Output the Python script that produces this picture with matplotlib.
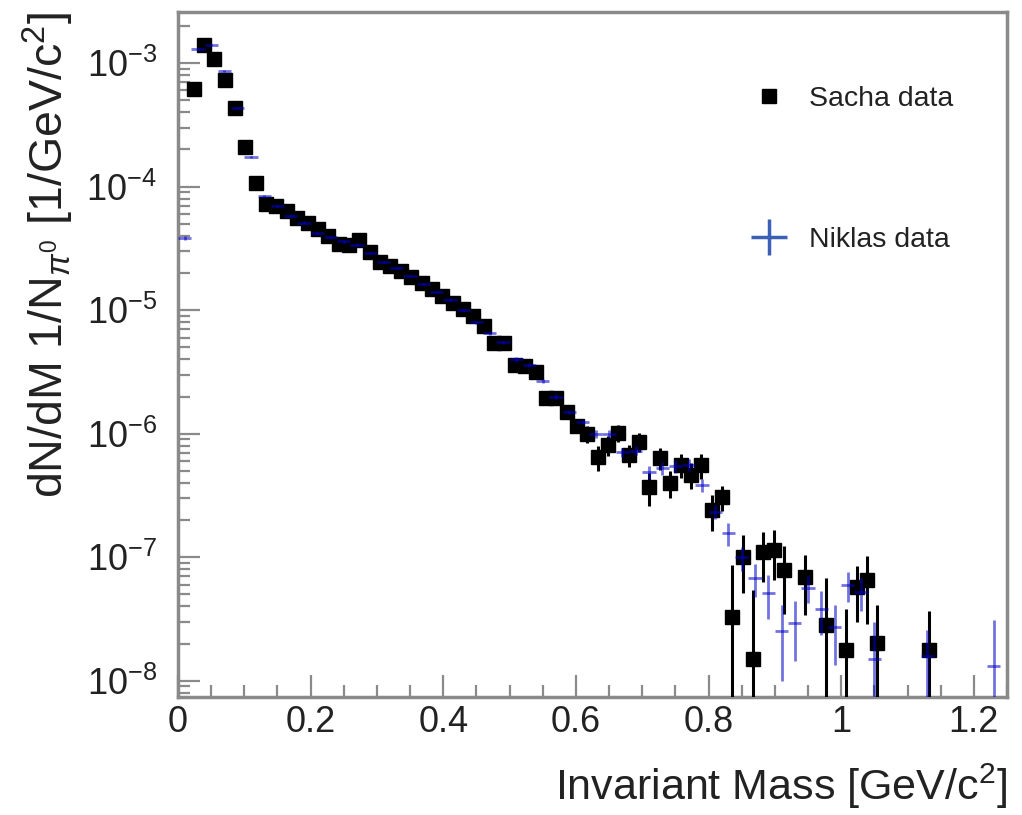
import numpy as np
import matplotlib
matplotlib.use("Agg")
import matplotlib.pyplot as plt
from matplotlib.lines import Line2D
from matplotlib.ticker import LogLocator, FixedLocator, MultipleLocator, FuncFormatter, NullFormatter

plt.rcParams['font.family'] = ['Liberation Sans', 'DejaVu Sans']
plt.rcParams['mathtext.fontset'] = 'custom'
plt.rcParams['mathtext.rm'] = 'Liberation Sans'
plt.rcParams['mathtext.it'] = 'Liberation Sans:italic'
plt.rcParams['mathtext.bf'] = 'Liberation Sans:bold'

# ---------------- data ----------------
sacha_mass = [0.0234, 0.0391, 0.0547, 0.0703, 0.0859, 0.1016, 0.1172, 0.1328, 0.1484, 0.1641,
              0.1797, 0.1953, 0.2109, 0.2266, 0.2422, 0.2578, 0.2734, 0.2891, 0.3047, 0.3203,
              0.3359, 0.3516, 0.3672, 0.3828, 0.3984, 0.4141, 0.4297, 0.4453, 0.4609, 0.4766,
              0.4922, 0.5078, 0.5234, 0.5391, 0.5547, 0.5703, 0.5859, 0.6016, 0.6172, 0.6328,
              0.6484, 0.6641, 0.6797, 0.6953, 0.7109, 0.7266, 0.7422, 0.7578, 0.7734, 0.7891,
              0.8047, 0.8203, 0.8359, 0.8516, 0.8672, 0.8828, 0.8984, 0.9141, 0.9453, 0.9766,
              1.0078, 1.0234, 1.0391, 1.0547, 1.1328]
sacha_val = [6.2e-4, 1.40e-3, 1.08e-3, 7.3e-4, 4.3e-4, 2.1e-4, 1.07e-4, 7.2e-5, 7.0e-5, 6.4e-5,
             5.6e-5, 5.1e-5, 4.5e-5, 4.0e-5, 3.45e-5, 3.4e-5, 3.7e-5, 2.96e-5, 2.46e-5, 2.28e-5,
             2.08e-5, 1.86e-5, 1.66e-5, 1.49e-5, 1.30e-5, 1.14e-5, 1.02e-5, 8.98e-6, 7.45e-6, 5.43e-6,
             5.43e-6, 3.60e-6, 3.54e-6, 3.16e-6, 1.95e-6, 1.95e-6, 1.50e-6, 1.16e-6, 9.96e-7, 6.49e-7,
             8.11e-7, 1.01e-6, 6.73e-7, 8.59e-7, 3.71e-7, 6.37e-7, 4.00e-7, 5.60e-7, 4.65e-7, 5.60e-7,
             2.42e-7, 3.08e-7, 3.30e-8, 1.01e-7, 1.51e-8, 1.11e-7, 1.15e-7, 7.9e-8, 6.9e-8, 2.84e-8,
             1.78e-8, 5.77e-8, 6.56e-8, 2.03e-8, 1.78e-8]
sacha_err = [1.2e-5, 2.8e-5, 2.2e-5, 1.5e-5, 9e-6, 4.5e-6, 2.5e-6, 2.0e-6, 2.0e-6, 1.8e-6,
             1.6e-6, 1.5e-6, 1.3e-6, 1.2e-6, 1.1e-6, 1.1e-6, 1.2e-6, 1.0e-6, 8.5e-7, 8.0e-7,
             7.5e-7, 7.0e-7, 6.5e-7, 6.0e-7, 5.5e-7, 5.0e-7, 4.6e-7, 4.2e-7, 3.8e-7, 3.2e-7,
             3.2e-7, 2.4e-7, 2.4e-7, 2.2e-7, 1.7e-7, 1.7e-7, 1.6e-7, 1.5e-7, 1.5e-7, 1.5e-7,
             1.5e-7, 1.6e-7, 1.4e-7, 1.5e-7, 1.1e-7, 1.3e-7, 1.0e-7, 1.2e-7, 1.1e-7, 1.3e-7,
             8e-8, 7e-8, 5.4e-8, 5e-8, 3.9e-8, 4.8e-8, 5e-8, 4.4e-8, 3.5e-8, 4e-8,
             2e-8, 2.8e-8, 3.7e-8, 2.1e-8, 1.9e-8]

niklas_mass = [0.01, 0.03, 0.05, 0.07, 0.09, 0.11, 0.13, 0.15, 0.17, 0.19,
               0.21, 0.23, 0.25, 0.27, 0.29, 0.31, 0.33, 0.35, 0.37, 0.39,
               0.41, 0.43, 0.45, 0.47, 0.49, 0.51, 0.53, 0.55, 0.57, 0.59,
               0.61, 0.63, 0.65, 0.67, 0.69, 0.71, 0.73, 0.75, 0.77, 0.79,
               0.81, 0.83, 0.85, 0.87, 0.89, 0.91, 0.93, 0.95, 0.97, 0.99,
               1.01, 1.03, 1.05, 1.13, 1.23]
niklas_val = [3.84e-5, 1.30e-3, 1.40e-3, 8.6e-4, 4.3e-4, 1.74e-4, 8.4e-5, 6.97e-5, 5.8e-5, 5.1e-5,
              4.2e-5, 3.9e-5, 3.6e-5, 3.4e-5, 2.9e-5, 2.46e-5, 2.19e-5, 1.89e-5, 1.63e-5, 1.40e-5,
              1.22e-5, 1.0e-5, 8.0e-6, 6.5e-6, 5.5e-6, 4.0e-6, 3.6e-6, 2.67e-6, 2.0e-6, 1.5e-6,
              1.24e-6, 1.0e-6, 1.0e-6, 7.1e-7, 7.3e-7, 4.9e-7, 5.3e-7, 5.5e-7, 5.6e-7, 3.85e-7,
              2.33e-7, 1.57e-7, 1.0e-7, 6.8e-8, 5.15e-8, 2.54e-8, 2.95e-8, 5.65e-8, 3.83e-8, 2.74e-8,
              5.98e-8, 5.25e-8, 1.51e-8, 1.59e-8, 1.32e-8]
niklas_err = [1.5e-6, 2.6e-5, 2.8e-5, 1.7e-5, 9e-6, 3.5e-6, 1.7e-6, 1.7e-6, 1.5e-6, 1.3e-6,
              1.1e-6, 1.0e-6, 9e-7, 8.5e-7, 7.5e-7, 6.2e-7, 5.5e-7, 4.8e-7, 4.1e-7, 3.5e-7,
              3.1e-7, 2.5e-7, 2.0e-7, 1.7e-7, 1.4e-7, 1.6e-7, 1.4e-7, 1.1e-7, 8e-8, 6e-8,
              5e-8, 8e-8, 8e-8, 6e-8, 6e-8, 6e-8, 6.5e-8, 6.5e-8, 6.5e-8, 4.5e-8,
              3e-8, 3.3e-8, 2.2e-8, 2.0e-8, 2.0e-8, 1.55e-8, 1.5e-8, 1.4e-8, 1.5e-8, 1.4e-8,
              1.6e-8, 1.6e-8, 1.5e-8, 1.0e-8, 1.8e-8]
niklas_halfwidth = 0.01

x_ticks = [0, 0.2, 0.4, 0.6, 0.8, 1.0, 1.2]
x_ticklabels = ["0", "0.2", "0.4", "0.6", "0.8", "1", "1.2"]
legend_labels = ["Sacha data", "Niklas data"]

# ---------------- figure ----------------
W, H = 1022, 815
fig = plt.figure(figsize=(W / 100, H / 100), dpi=100)
ax = fig.add_axes([178 / W, 1 - 697 / H, (1007 - 178) / W, (697 - 12) / H])

ax.set_yscale('log')
ax.set_xlim(0, 1.25)
ax.set_ylim(7.4e-9, 2.59e-3)

blue = (0.0, 0.0, 0.78)
sv = np.array(sacha_val)
se = np.array(sacha_err)
s_low = np.minimum(se, sv * 0.9999)
nv = np.array(niklas_val)
ne = np.array(niklas_err)
n_low = np.minimum(ne, nv * 0.9999)

ax.errorbar(sacha_mass, sv, yerr=[s_low, se], fmt='s', color='black',
            markersize=9.5, elinewidth=2.2, capsize=0, zorder=3)
ax.errorbar(niklas_mass, nv, xerr=niklas_halfwidth, yerr=[n_low, ne], fmt='none',
            ecolor=blue, elinewidth=2.0, capsize=0, alpha=0.55, zorder=4)

# axes style (ROOT-like)
frame_col = '#8a8a8a'
for sp in ax.spines.values():
    sp.set_color(frame_col)
    sp.set_linewidth(2.5)

ax.xaxis.set_major_locator(FixedLocator(x_ticks))
ax.set_xticklabels(x_ticklabels)
ax.xaxis.set_minor_locator(MultipleLocator(0.05))
ax.yaxis.set_major_locator(LogLocator(base=10, numticks=20))
ax.yaxis.set_minor_locator(LogLocator(base=10, subs=np.arange(2, 10), numticks=20))
ax.yaxis.set_minor_formatter(NullFormatter())
ax.yaxis.set_major_formatter(FuncFormatter(lambda v, p: r'$10^{%d}$' % int(round(np.log10(v)))))

ax.tick_params(axis='both', which='both', direction='in', color=frame_col,
               top=False, right=False, labelcolor='#222222')
ax.tick_params(axis='both', which='major', length=16, width=1.6, labelsize=26)
ax.tick_params(axis='both', which='minor', length=8.5, width=1.6)
ax.tick_params(axis='x', which='major', pad=6)
ax.tick_params(axis='y', which='major', pad=15)

ax.set_xlabel(r'Invariant Mass [GeV/c$^{2}$]', fontsize=31, color='#222222', loc='right')
ax.xaxis.set_label_coords(1.0, -0.095)
ax.set_ylabel(r'dN/dM 1/N$_{\pi^{0}}$ [1/GeV/c$^{2}$]', fontsize=33.5, color='#222222', loc='top')
ax.yaxis.set_label_coords(-0.123, 1.0)

# legend
h_sq = Line2D([], [], marker='s', ls='none', color='black', markersize=9.5)
h_cr = Line2D([], [], marker='+', ls='none', color='#3b5fb5', markersize=26, markeredgewidth=2.5)
ax.legend([h_sq, h_cr], legend_labels, loc='upper left', bbox_to_anchor=(0.689, 0.892),
          frameon=False, fontsize=20.5, handlelength=1.4, handletextpad=0.7,
          labelspacing=4.05, borderpad=0, borderaxespad=0, labelcolor='#222222')

fig.savefig('out.png', dpi=100)
